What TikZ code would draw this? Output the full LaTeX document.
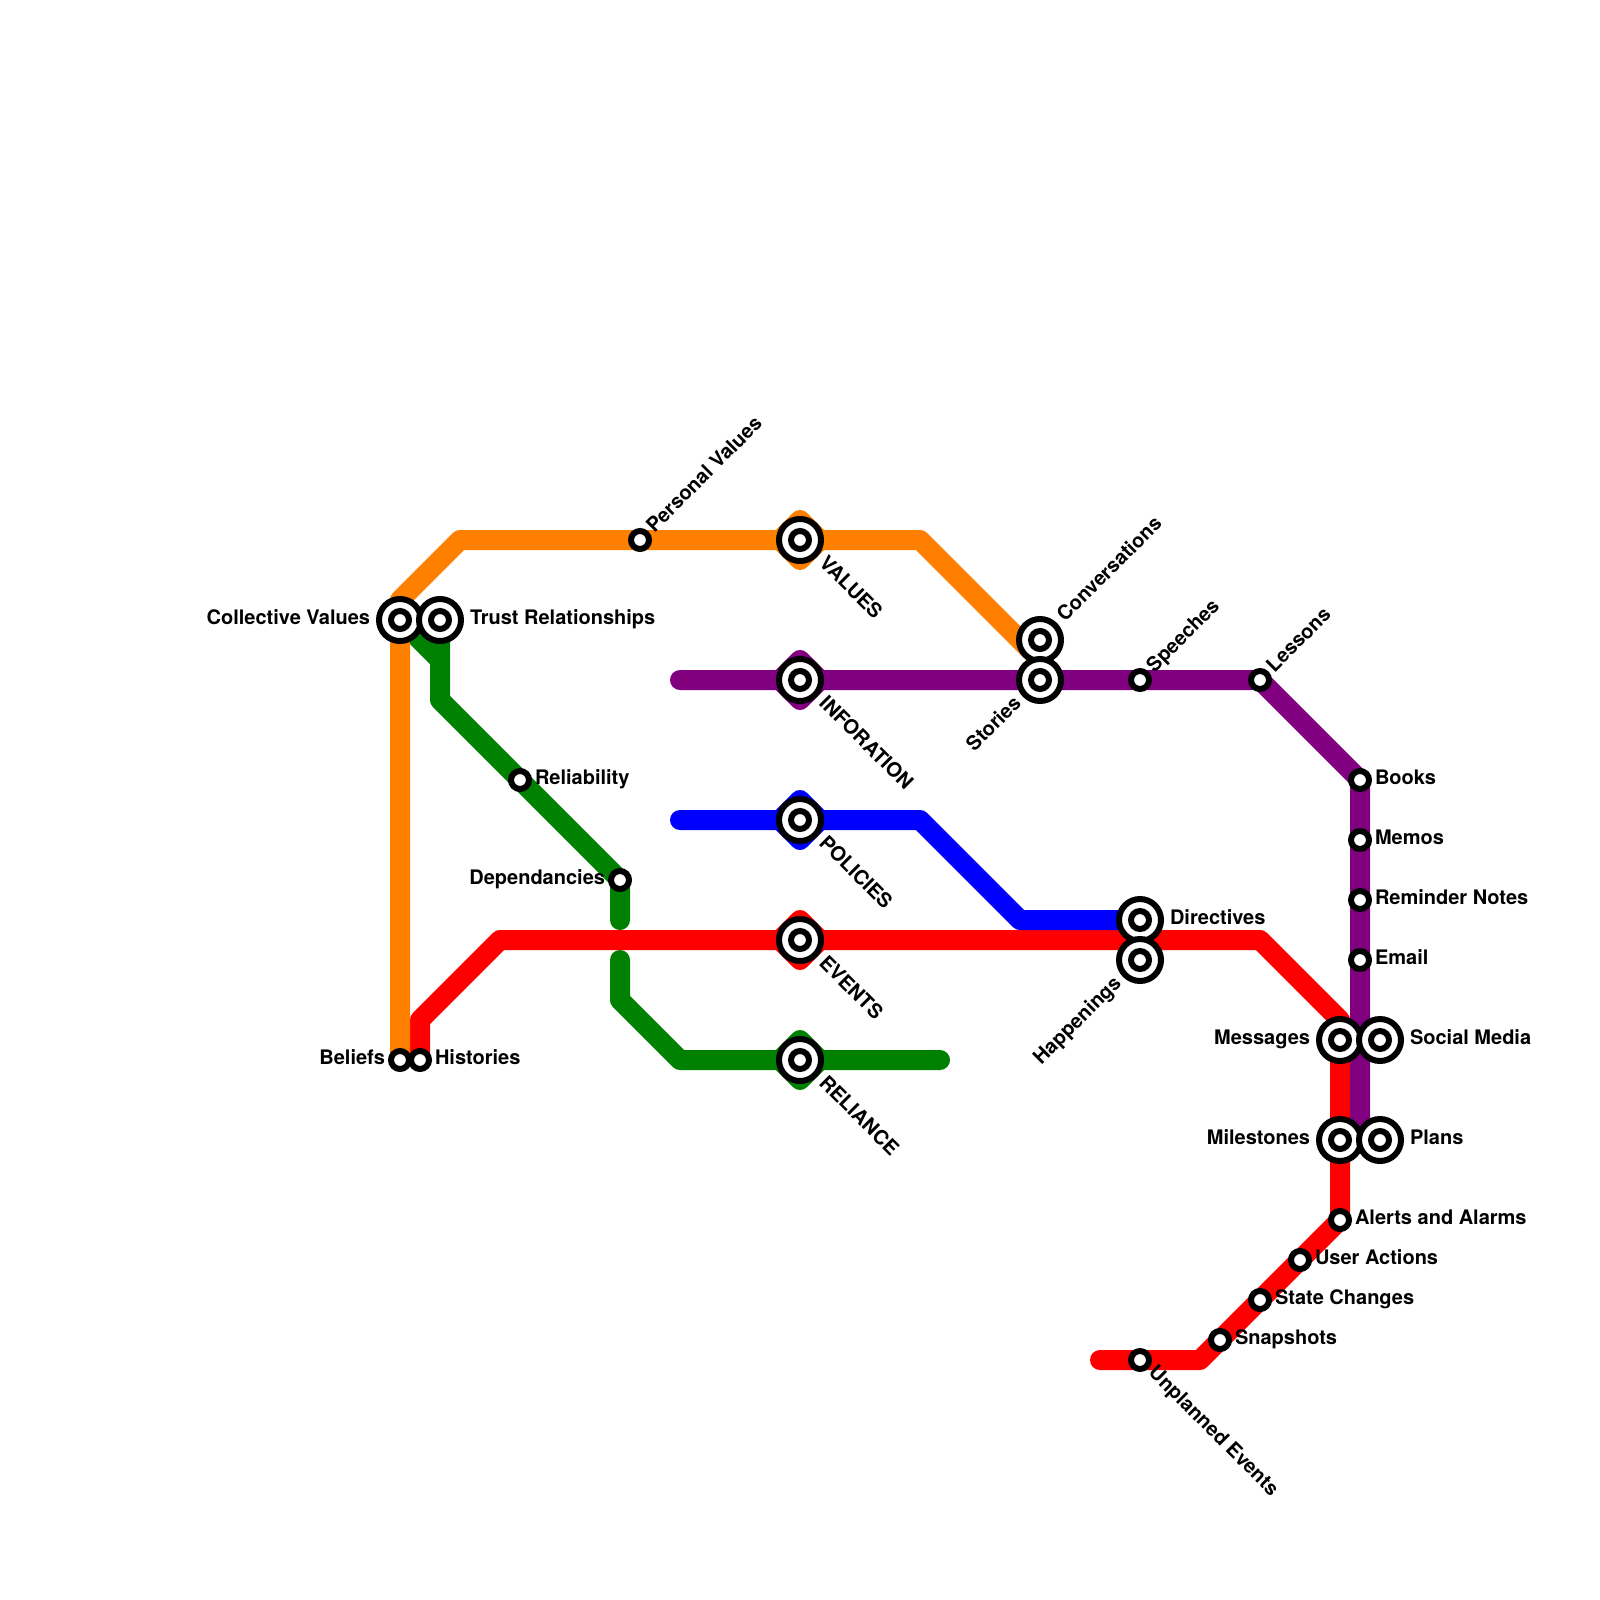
\documentclass[tikz,border=0pt]{standalone}
\usepackage{fontspec}
\setmainfont{TeX Gyre Heros}
\usetikzlibrary{shapes.geometric}
\definecolor{lineorange}{HTML}{FF8000}
\definecolor{linepurple}{HTML}{800080}
\definecolor{lineblue}{HTML}{0000FF}
\definecolor{linered}{HTML}{FF0000}
\definecolor{linegreen}{HTML}{008000}
\tikzset{
  metroline/.style={
	line width=10pt, % one grid unit
	line cap=round,
	line join=round,
  },
  stop/.style={circle, draw=black, fill=white, line width=3pt, inner sep=0pt, outer sep=0pt, minimum size=9pt},
  hub/.style={circle, draw=black, fill=white, line width=3pt, inner sep=0pt, outer sep=0pt, minimum size=21pt},
  badge/.style={diamond, draw=#1, fill=#1, line width=10pt, line join=round, inner sep=0pt, outer sep=0pt, minimum size=20pt},
  namelabel/.style={inner sep=0pt, outer sep=0pt, font=\bfseries\fontsize{10}{12}\selectfont, text=black},
  rlabel/.style={namelabel, anchor=base west, xshift=#1, yshift=-2.4pt},
  llabel/.style={namelabel, anchor=base east, xshift=-#1, yshift=-2.4pt},
  uplabel/.style={namelabel, rotate=45, anchor=base west, xshift=#1, yshift=-2.8pt},
  dnlabel/.style={namelabel, rotate=-45, anchor=base west, xshift=#1, yshift=-2.2pt},
  backlabel/.style={namelabel, rotate=45, anchor=base east, xshift=-#1, yshift=-2.4pt},
}
\begin{document}
\begin{tikzpicture}[x=10pt, y=-10pt]
	\useasboundingbox (0,0) rectangle (80,80);

	% stops
	\coordinate (beliefs) at (20,53);
	\coordinate (histories) at (21,53);
	\coordinate (collective) at (20,31);
	\coordinate (trust) at (22,31);
	\coordinate (reliability) at (26,39);
	\coordinate (dependancies) at (31,44);
	\coordinate (personal) at (32,27);
	\coordinate (values) at (40,27);
	\coordinate (infor) at (40,34);
	\coordinate (policies) at (40,41);
	\coordinate (events) at (40,47);
	\coordinate (reliance) at (40,53);
	\coordinate (conversations) at (52,32);
	\coordinate (stories) at (52,34);
	\coordinate (speeches) at (57,34);
	\coordinate (directives) at (57,46);
	\coordinate (happenings) at (57,48);
	\coordinate (lessons) at (63,34);
	\coordinate (books) at (68,39);
	\coordinate (memos) at (68,42);
	\coordinate (reminder) at (68,45);
	\coordinate (email) at (68,48);
	\coordinate (messages) at (67,52);
	\coordinate (social) at (69,52);
	\coordinate (milestones) at (67,57);
	\coordinate (plans) at (69,57);
	\coordinate (alerts) at (67,61);
	\coordinate (useractions) at (65,63);
	\coordinate (statechanges) at (63,65);
	\coordinate (snapshots) at (61,67);
	\coordinate (unplanned) at (57,68);

	% bends and line ends
	\coordinate (o1) at (20,30);
	\coordinate (o2) at (23,27);
	\coordinate (o3) at (46,27);
	\coordinate (o4) at (52,33);
	\coordinate (g1) at (22,33);
	\coordinate (g2) at (22,35);
	\coordinate (g3) at (31,46);
	\coordinate (g4) at (31,48);
	\coordinate (g5) at (31,50);
	\coordinate (g6) at (34,53);
	\coordinate (g7) at (47,53);
	\coordinate (r1) at (21,51);
	\coordinate (r2) at (25,47);
	\coordinate (r3) at (63,47);
	\coordinate (r4) at (67,51);
	\coordinate (r5) at (60,68);
	\coordinate (r6) at (55,68);
	\coordinate (b1) at (34,41);
	\coordinate (b2) at (46,41);
	\coordinate (b3) at (51,46);
	\coordinate (p1) at (34,34);
	\coordinate (p2) at (68,57);

	% lines
	\draw[metroline, draw=linegreen] (collective) -- (g1);
	\draw[metroline, draw=linegreen] (trust) -- (g1) -- (g2) -- (reliability) -- (dependancies) -- (g3);
	\draw[metroline, draw=linegreen] (g4) -- (g5) -- (g6) -- (g7);
	\draw[metroline, draw=linered] (histories) -- (r1) -- (r2) -- (r3) -- (r4) -- (alerts) -- (r5) -- (r6);
	\draw[metroline, draw=lineblue] (b1) -- (b2) -- (b3) -- (directives);
	\draw[metroline, draw=linepurple] (p1) -- (lessons) -- (books) -- (p2);
	\draw[metroline, draw=lineorange] (beliefs) -- (o1) -- (o2) -- (o3) -- (o4);

	\node[badge=lineorange] (valuesb) at (values) {};
	\node[badge=linepurple] (inforb) at (infor) {};
	\node[badge=lineblue] (policiesb) at (policies) {};
	\node[badge=linered] (eventsb) at (events) {};
	\node[badge=linegreen] (relianceb) at (reliance) {};

	% rings
	\node[hub] (collectiveh) at (collective) {};
	\node[stop] (collectives) at (collective) {};
	\node[hub] (trusth) at (trust) {};
	\node[stop] (trusts) at (trust) {};
	\node[hub] (valuesh) at (values) {};
	\node[stop] (valuess) at (values) {};
	\node[hub] (inforh) at (infor) {};
	\node[stop] (infors) at (infor) {};
	\node[hub] (policiesh) at (policies) {};
	\node[stop] (policiess) at (policies) {};
	\node[hub] (eventsh) at (events) {};
	\node[stop] (eventss) at (events) {};
	\node[hub] (relianceh) at (reliance) {};
	\node[stop] (reliances) at (reliance) {};
	\node[hub] (conversationsh) at (conversations) {};
	\node[stop] (conversationss) at (conversations) {};
	\node[hub] (storiesh) at (stories) {};
	\node[stop] (storiess) at (stories) {};
	\node[hub] (directivesh) at (directives) {};
	\node[stop] (directivess) at (directives) {};
	\node[hub] (happeningsh) at (happenings) {};
	\node[stop] (happeningss) at (happenings) {};
	\node[hub] (messagesh) at (messages) {};
	\node[stop] (messagess) at (messages) {};
	\node[hub] (socialh) at (social) {};
	\node[stop] (socials) at (social) {};
	\node[hub] (milestonesh) at (milestones) {};
	\node[stop] (milestoness) at (milestones) {};
	\node[hub] (plansh) at (plans) {};
	\node[stop] (planss) at (plans) {};

	\node[stop] (beliefss) at (beliefs) {};
	\node[stop] (historiess) at (histories) {};
	\node[stop] (reliabilitys) at (reliability) {};
	\node[stop] (dependanciess) at (dependancies) {};
	\node[stop] (personals) at (personal) {};
	\node[stop] (speechess) at (speeches) {};
	\node[stop] (lessonss) at (lessons) {};
	\node[stop] (bookss) at (books) {};
	\node[stop] (memoss) at (memos) {};
	\node[stop] (reminders) at (reminder) {};
	\node[stop] (emails) at (email) {};
	\node[stop] (alertss) at (alerts) {};
	\node[stop] (useractionss) at (useractions) {};
	\node[stop] (statechangess) at (statechanges) {};
	\node[stop] (snapshotss) at (snapshots) {};
	\node[stop] (unplanneds) at (unplanned) {};

	% labels
	\node[llabel=15pt] (collectivel) at (collective) {Collective Values};
	\node[rlabel=15pt] (trustl) at (trust) {Trust Relationships};
	\node[llabel=7.5pt] (beliefsl) at (beliefs) {Beliefs};
	\node[rlabel=7.5pt] (historiesl) at (histories) {Histories};
	\node[rlabel=7.5pt] (reliabilityl) at (reliability) {Reliability};
	\node[llabel=7.5pt] (dependanciesl) at (dependancies) {Dependancies};
	\node[uplabel=7.5pt] (personall) at (personal) {Personal Values};
	\node[dnlabel=15pt] (valuesl) at (values) {VALUES};
	\node[dnlabel=15pt] (inforl) at (infor) {INFORATION};
	\node[dnlabel=15pt] (policiesl) at (policies) {POLICIES};
	\node[dnlabel=15pt] (eventsl) at (events) {EVENTS};
	\node[dnlabel=15pt] (reliancel) at (reliance) {RELIANCE};
	\node[uplabel=15pt] (conversationsl) at (conversations) {Conversations};
	\node[backlabel=15pt] (storiesl) at (stories) {Stories};
	\node[uplabel=7.5pt] (speechesl) at (speeches) {Speeches};
	\node[rlabel=15pt] (directivesl) at (directives) {Directives};
	\node[backlabel=15pt] (happeningsl) at (happenings) {Happenings};
	\node[uplabel=7.5pt] (lessonsl) at (lessons) {Lessons};
	\node[rlabel=7.5pt] (booksl) at (books) {Books};
	\node[rlabel=7.5pt] (memosl) at (memos) {Memos};
	\node[rlabel=7.5pt] (reminderl) at (reminder) {Reminder Notes};
	\node[rlabel=7.5pt] (emaill) at (email) {Email};
	\node[llabel=15pt] (messagesl) at (messages) {Messages};
	\node[rlabel=15pt] (sociall) at (social) {Social Media};
	\node[llabel=15pt] (milestonesl) at (milestones) {Milestones};
	\node[rlabel=15pt] (plansl) at (plans) {Plans};
	\node[rlabel=7.5pt] (alertsl) at (alerts) {Alerts and Alarms};
	\node[rlabel=7.5pt] (useractionsl) at (useractions) {User Actions};
	\node[rlabel=7.5pt] (statechangesl) at (statechanges) {State Changes};
	\node[rlabel=7.5pt] (snapshotsl) at (snapshots) {Snapshots};
	\node[dnlabel=7.5pt] (unplannedl) at (unplanned) {Unplanned Events};
\end{tikzpicture}
\end{document}
